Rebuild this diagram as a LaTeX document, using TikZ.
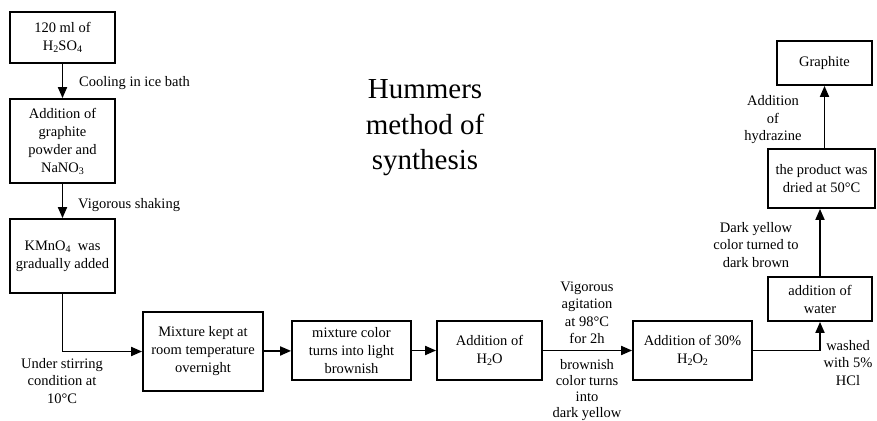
\documentclass[tikz,border=0pt]{standalone}
\usepackage{fontspec}
\setmainfont{Liberation Serif}
\usetikzlibrary{arrows.meta}
\newcommand\chemsub[1]{\raisebox{-0.3ex}{\fontsize{10}{10}\selectfont #1}}
\begin{document}
\begin{tikzpicture}[x=1pt,y=-1pt,
  box/.style={draw,line width=1.8pt,align=center,inner sep=0pt,font=\fontsize{14.5}{18}\selectfont},
  lbl/.style={align=center,inner sep=0pt,font=\fontsize{14.5}{17.5}\selectfont},
  arr/.style={line width=1.8pt,-{Triangle[length=11pt,width=9pt]}}]
\useasboundingbox (0,0) rectangle (877,420);
% boxes
\node[box,minimum width=105pt,minimum height=51pt] (b1) at (62.5,37.5) {120 ml of\\H\chemsub{2}SO\chemsub{4}};
\node[box,minimum width=105pt,minimum height=84pt] (b2) at (62.5,141) {Addition of\\graphite\\powder and\\NaNO\chemsub{3}};
\node[box,minimum width=105pt,minimum height=74pt] (b3) at (62.5,256) {KMnO\chemsub{4}\ \ was\\gradually added};
\node[box,minimum width=120pt,minimum height=79pt] (b4) at (203,351.5) {Mixture kept at\\room temperature\\overnight};
\node[box,minimum width=119pt,minimum height=59pt] (b5) at (351.5,350.5) {mixture color\\turns into light\\brownish};
\node[box,minimum width=105pt,minimum height=59pt] (b6) at (489.5,350.5) {Addition of\\H\chemsub{2}O};
\node[box,minimum width=119pt,minimum height=59pt] (b7) at (692.5,350.5) {Addition of 30\%\\H\chemsub{2}O\chemsub{2}};
\node[box,minimum width=104pt,minimum height=44pt] (b8) at (820,299) {addition of\\water};
\node[box,minimum width=107pt,minimum height=59pt] (b9) at (821.5,178.5) {the product was\\dried at 50°C};
\node[box,minimum width=95pt,minimum height=44pt] (b10) at (824.5,63) {Graphite};
% title
\node[align=center,font=\fontsize{29}{35.5}\selectfont] (title) at (425,128) {Hummers\\method of\\synthesis};
% labels
\node[lbl,anchor=west] (l1) at (79,83) {Cooling in ice bath};
\node[lbl,anchor=west] (l2) at (78,205) {Vigorous shaking};
\node[lbl] (l3) at (62,381) {Under stirring\\condition at\\10°C};
\node[lbl] (l4) at (587,313) {Vigorous\\agitation\\at 98°C\\for 2h};
\node[lbl,font=\fontsize{14.5}{16}\selectfont] (l5) at (587,390) {brownish\\color turns\\into\\dark yellow};
\node[lbl] (l6) at (848,363) {washed\\with 5\%\\HCl};
\node[lbl] (l7) at (756,245) {Dark yellow\\color turned to\\dark brown};
\node[lbl] (l8) at (773,120) {Addition\\of\\hydrazine};
% connectors
\draw[arr] (b1) -- (b2);
\draw[arr] (b2) -- (b3);
\draw[arr] (b3.south) |- (b4.west);
\draw[arr] (b4) -- (b5);
\draw[arr] (b5) -- (b6);
\draw[arr] (b6) -- (b7);
\draw[arr] (b7.east) -| (b8.south);
\draw[arr] (b8) -- (b9.south -| b8.north);
\draw[arr] (b9.north -| b10.south) -- (b10.south);
\end{tikzpicture}
\end{document}
